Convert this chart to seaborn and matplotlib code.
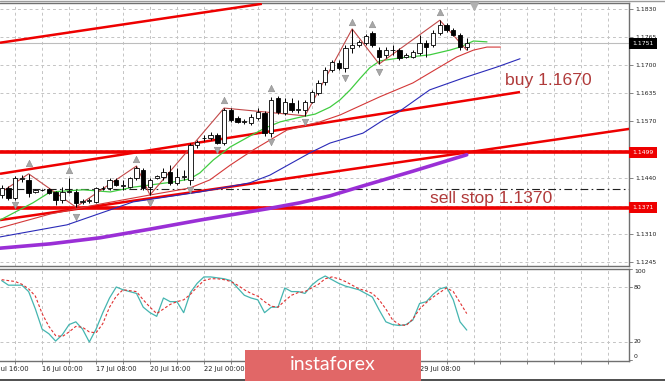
import matplotlib
matplotlib.use("Agg")
import matplotlib.pyplot as plt
import matplotlib.transforms as mtrans
from matplotlib.patches import Rectangle
from matplotlib.lines import Line2D
import numpy as np
import pandas as pd
import seaborn as sns

sns.set_theme(style="white")
plt.rcParams['font.family'] = ['DejaVu Sans']

# ---------------- data (EURUSD H4) ----------------
opens = [1.1400, 1.1416, 1.1393, 1.1438, 1.1435, 1.1407, 1.1411, 1.1414, 1.1407, 1.1389,
         1.1408, 1.1407, 1.1384, 1.1386, 1.1384, 1.1416, 1.1416, 1.1435, 1.1421, 1.1418,
         1.1440, 1.1458, 1.1418, 1.1440, 1.1442, 1.1453, 1.1428, 1.1442, 1.1435, 1.1516,
         1.1531, 1.1532, 1.1539, 1.1520, 1.1597, 1.1578, 1.1569, 1.1566, 1.1578, 1.1590,
         1.1543, 1.1624, 1.1590, 1.1613, 1.1597, 1.1597, 1.1615, 1.1636, 1.1661, 1.1689,
         1.1705, 1.1694, 1.1740, 1.1747, 1.1752, 1.1775, 1.1735, 1.1724, 1.1735, 1.1735,
         1.1719, 1.1719, 1.1728, 1.1752, 1.1747, 1.1775, 1.1793, 1.1781, 1.1770, 1.1742]
highs = [1.1423, 1.1421, 1.1444, 1.1446, 1.1449, 1.1414, 1.1414, 1.1416, 1.1409, 1.1418,
         1.1440, 1.1412, 1.1391, 1.1393, 1.1418, 1.1421, 1.1440, 1.1440, 1.1435, 1.1442,
         1.1467, 1.1462, 1.1440, 1.1447, 1.1462, 1.1469, 1.1462, 1.1458, 1.1520, 1.1527,
         1.1539, 1.1545, 1.1543, 1.1601, 1.1601, 1.1582, 1.1576, 1.1587, 1.1601, 1.1594,
         1.1627, 1.1629, 1.1624, 1.1624, 1.1620, 1.1620, 1.1643, 1.1666, 1.1696, 1.1712,
         1.1712, 1.1747, 1.1784, 1.1758, 1.1773, 1.1779, 1.1742, 1.1742, 1.1747, 1.1740,
         1.1728, 1.1735, 1.1770, 1.1758, 1.1781, 1.1804, 1.1798, 1.1786, 1.1775, 1.1763]
lows = [1.1393, 1.1389, 1.1389, 1.1430, 1.1395, 1.1405, 1.1409, 1.1402, 1.1377, 1.1382,
        1.1405, 1.1372, 1.1380, 1.1382, 1.1382, 1.1412, 1.1412, 1.1421, 1.1412, 1.1416,
        1.1435, 1.1412, 1.1400, 1.1438, 1.1435, 1.1423, 1.1423, 1.1435, 1.1423, 1.1509,
        1.1525, 1.1527, 1.1518, 1.1516, 1.1569, 1.1566, 1.1564, 1.1562, 1.1573, 1.1536,
        1.1534, 1.1587, 1.1585, 1.1592, 1.1590, 1.1583, 1.1613, 1.1631, 1.1654, 1.1684,
        1.1689, 1.1684, 1.1728, 1.1742, 1.1747, 1.1742, 1.1703, 1.1717, 1.1724, 1.1712,
        1.1717, 1.1717, 1.1724, 1.1719, 1.1742, 1.1770, 1.1777, 1.1768, 1.1735, 1.1735]
closes = [1.1416, 1.1393, 1.1440, 1.1440, 1.1405, 1.1412, 1.1412, 1.1405, 1.1389, 1.1407,
          1.1409, 1.1382, 1.1386, 1.1388, 1.1416, 1.1417, 1.1435, 1.1423, 1.1422, 1.1440,
          1.1462, 1.1416, 1.1435, 1.1444, 1.1453, 1.1428, 1.1442, 1.1443, 1.1516, 1.1523,
          1.1532, 1.1539, 1.1520, 1.1597, 1.1573, 1.1569, 1.1570, 1.1580, 1.1592, 1.1543,
          1.1620, 1.1592, 1.1615, 1.1597, 1.1598, 1.1615, 1.1638, 1.1659, 1.1689, 1.1707,
          1.1694, 1.1740, 1.1747, 1.1754, 1.1768, 1.1747, 1.1719, 1.1735, 1.1736, 1.1717,
          1.1724, 1.1731, 1.1752, 1.1742, 1.1775, 1.1793, 1.1781, 1.1770, 1.1742, 1.1751]

# Alligator lines (bar index, price)
lips_bar = [-0.25, 4.65, 7.2, 12.1, 16.1, 19.5, 25.4, 27.9, 29.4, 31.4, 33.9, 36.8, 39.1, 41.3,
            44.3, 46.5, 48.7, 50.2, 51.7, 53.2, 54.6, 56.1, 59.1, 63.5, 66.5, 68.0, 70.0, 72.0]
lips_price = [1.1342, 1.1382, 1.1407, 1.1412, 1.1407, 1.1418, 1.1430, 1.1437, 1.1451, 1.1481,
              1.1511, 1.1536, 1.1555, 1.1569, 1.1580, 1.1587, 1.1603, 1.1620, 1.1643, 1.1670,
              1.1694, 1.1710, 1.1717, 1.1724, 1.1735, 1.1742, 1.1756, 1.1754]
teeth_bar = [-0.25, 7.2, 14.6, 22.0, 27.9, 30.9, 33.9, 37.3, 42.3, 47.2, 50.2, 56.1, 61.0,
             65.0, 67.5, 70.0, 72.0, 74.0]
teeth_price = [1.1324, 1.1356, 1.1379, 1.1400, 1.1416, 1.1435, 1.1469, 1.1504, 1.1550, 1.1569,
               1.1585, 1.1627, 1.1659, 1.1696, 1.1719, 1.1735, 1.1742, 1.1742]
jaw_bar = [-0.25, 9.7, 19.5, 29.4, 36.8, 39.8, 42.8, 45.8, 48.7, 53.6, 56.6, 58.7, 63.5, 68.4,
           73.5, 76.9]
jaw_price = [1.1303, 1.1331, 1.1384, 1.1407, 1.1428, 1.1446, 1.1472, 1.1498, 1.1520, 1.1543,
             1.1573, 1.1590, 1.1643, 1.1670, 1.1696, 1.1715]
ma_bar = [-0.25, 7.17, 14.58, 22.0, 29.42, 39.36, 44.26, 48.7, 53.6, 61.0, 69.0]
ma_price = [1.1277, 1.1287, 1.1301, 1.1321, 1.1342, 1.1368, 1.1382, 1.1398, 1.1421, 1.1455,
            1.1493]

# ZigZag and fractals
zz_bar = [0, 4, 11, 20, 22, 33, 45, 52, 56, 65, 69]
zz_price = [1.1407, 1.1449, 1.1372, 1.1467, 1.1400, 1.1601, 1.1583, 1.1784, 1.1703, 1.1804, 1.1735]
frac_up_bar = [4, 10, 20, 33, 40, 52, 55, 65]
frac_up_price = [1.1474, 1.1458, 1.1483, 1.1620, 1.1648, 1.1800, 1.1795, 1.1823]
frac_dn_bar = [2, 11, 22, 28, 32, 40, 45, 51, 56]
frac_dn_price = [1.1377, 1.1349, 1.1382, 1.1412, 1.1505, 1.1523, 1.1569, 1.1671, 1.1684]

# trend lines
t1_bar, t1_price = [-0.25, 38.6], [1.1752, 1.1842]
t2_bar, t2_price = [-0.25, 76.9], [1.1449, 1.1638]
t3_bar, t3_price = [-0.25, 93.2], [1.1342, 1.1553]
red_levels = [1.1499, 1.1371]
pending_level = 1.1413
last_price = 1.1751

# Stochastic
stoch_main = [87, 82, 82, 82, 75, 56, 34, 29, 21, 28, 39, 42, 34, 20, 34, 52, 68, 80, 77, 75,
              73, 58, 52, 48, 68, 64, 64, 52, 74, 84, 91, 91, 90, 89, 87, 79, 71, 68, 66, 52,
              58, 58, 79, 75, 75, 73, 82, 88, 92, 88, 84, 81, 79, 77, 73, 69, 55, 42, 39, 38,
              39, 44, 62, 64, 72, 78, 80, 66, 42, 33]
stoch_signal = [88, 87, 86, 83, 78, 70, 51, 37, 27, 26, 31, 37, 36, 31, 30, 40, 58, 70, 77, 76,
                75, 66, 58, 51, 56, 61, 64, 66, 72, 80, 87, 89, 89, 88, 86, 82, 77, 73, 70, 64,
                59, 58, 65, 71, 74, 75, 79, 83, 89, 91, 89, 86, 82, 78, 76, 73, 66, 56, 44, 39,
                38, 45, 56, 63, 69, 74, 79, 75, 63, 51]

price_ticks = [1.1830, 1.1765, 1.1700, 1.1635, 1.1570, 1.1440, 1.1310, 1.1245]
price_grid = [1.1830, 1.1765, 1.1700, 1.1635, 1.1570, 1.1505, 1.1440, 1.1375, 1.1310, 1.1245]
# labels that are visible in the picture (the others lie under the logo)
time_bars = [-2, 6, 14, 22, 30, 62]
time_labels = ["14 Jul 16:00", "16 Jul 00:00", "17 Jul 08:00", "20 Jul 16:00", "22 Jul 00:00",
               "29 Jul 08:00"]

# ---------------- layout ----------------
W, H = 665, 381
fig = plt.figure(figsize=(W / 100, H / 100), dpi=100)
fig.patch.set_facecolor('white')


def fx(px):
    return px / W


def fy(py):
    return 1 - py / H


ax = fig.add_axes([0, fy(266), fx(629), fy(3) - fy(266)])
ax2 = fig.add_axes([0, fy(360.5), fx(629), fy(268.5) - fy(360.5)])
XMIN, XMAX = -0.25, 93.07
for a in (ax, ax2):
    a.set_facecolor('white')
    a.set_xlim(XMIN, XMAX)
    a.spines['left'].set_visible(False)
    for s in ('right', 'top', 'bottom'):
        a.spines[s].set_color('#707070')
        a.spines[s].set_linewidth(1.0)
ax.set_ylim(1.12358, 1.18439)
ax2.set_ylim(-0.2, 100.2)

grid_kw = dict(color='#c4c4c4', lw=0.7, linestyle=(0, (3, 3)), zorder=0)
grid_bars = np.arange(-2, 94, 4)
for gb in grid_bars:
    ax.axvline(gb, **grid_kw)
    ax2.axvline(gb, **grid_kw)
for gp in price_grid:
    ax.axhline(gp, **grid_kw)
for gl in (80, 20):
    ax2.axhline(gl, **grid_kw)

# current price line
ax.axhline(last_price, color='#bdbdbd', lw=0.8, zorder=1)

# horizontal red levels + pending line
for lv in red_levels:
    ax.axhline(lv, color='#ee0000', lw=2.6, zorder=3)
ax.axhline(pending_level, color='#202020', lw=0.8, linestyle=(0, (7, 3, 1.5, 3)), zorder=3)

# trend lines
for tb, tp in ((t1_bar, t1_price), (t2_bar, t2_price), (t3_bar, t3_price)):
    ax.plot(tb, tp, color='#ee0000', lw=1.8, zorder=3, solid_capstyle='butt')

# moving averages via seaborn
sns.lineplot(x=ma_bar, y=ma_price, ax=ax, color='#9a2fd6', lw=2.6, estimator=None, zorder=4)
sns.lineplot(x=jaw_bar, y=jaw_price, ax=ax, color='#2a2ab8', lw=0.8, estimator=None, zorder=4)
sns.lineplot(x=teeth_bar, y=teeth_price, ax=ax, color='#d43838', lw=0.8, estimator=None, zorder=4)
sns.lineplot(x=lips_bar, y=lips_price, ax=ax, color='#40cc40', lw=0.9, estimator=None, zorder=4)

# zigzag
ax.plot(zz_bar, zz_price, color='#c24848', lw=0.8, zorder=5)

# candles
bars = np.arange(len(opens))
o = np.array(opens)
c = np.array(closes)
ax.vlines(bars, lows, highs, color='black', lw=0.7, zorder=6)
bottoms = np.minimum(o, c)
heights = np.maximum(np.abs(c - o), 0.00003)
face = ['white' if cc >= oo else 'black' for oo, cc in zip(o, c)]
ax.bar(bars, heights, bottom=bottoms, width=0.64, color=face, edgecolor='black',
       linewidth=0.6, zorder=7)

# fractals
ax.scatter(frac_up_bar, frac_up_price, marker='^', s=22, color='#a8a8a8', edgecolors='#8c8c8c',
           linewidths=0.4, zorder=8)
ax.scatter(frac_dn_bar, frac_dn_price, marker='v', s=22, color='#a8a8a8', edgecolors='#8c8c8c',
           linewidths=0.4, zorder=8)
# chart shift marker
ax.scatter([70], [1.1837], marker='v', s=30, color='#b0b0b0', zorder=8, clip_on=False)

# annotations
txt_color = '#b03a3a'
ax.text(74.7, 1.1654, 'buy 1.1670', color=txt_color, fontsize=12.6,
        family=['Liberation Sans', 'DejaVu Sans'], ha='left', va='baseline', zorder=9)
ax.text(72.6, 1.1381, 'sell stop 1.1370', color=txt_color, fontsize=12.6,
        family=['Liberation Sans', 'DejaVu Sans'], ha='center', va='baseline', zorder=9)

# right price axis
ax.set_xticks([])
ax.yaxis.tick_right()
ax.set_yticks(price_ticks)
ax.set_yticklabels([f'{p:.4f}' for p in price_ticks])
ax.tick_params(axis='y', which='both', direction='out', length=3, width=0.6, color='#707070',
               labelsize=4.4, pad=1.5, right=True, left=False, labelright=True,
               labelleft=False, labelcolor='#202020')
bt = mtrans.blended_transform_factory(ax.transAxes, ax.transData)
box_x = 1.0 + 3.5 / 629
ax.text(box_x, last_price, f'{last_price:.4f}', transform=bt, ha='left', va='center',
        fontsize=4.4, color='white', clip_on=False, zorder=10,
        bbox=dict(boxstyle='square,pad=0.5', fc='black', ec='none'))
for lv in red_levels:
    ax.text(box_x, lv, f'{lv:.4f}', transform=bt, ha='left', va='center', fontsize=4.4,
            color='white', clip_on=False, zorder=10,
            bbox=dict(boxstyle='square,pad=0.5', fc='#ee0000', ec='none'))

# stochastic panel
sns.lineplot(x=bars, y=stoch_main, ax=ax2, color='#45b5b0', lw=0.9, estimator=None, zorder=4)
sns.lineplot(x=bars, y=stoch_signal, ax=ax2, color='#e03030', lw=0.8, estimator=None,
             linestyle=(0, (2.5, 1.8)), zorder=5)
ax2.set_yticks([])
ax2.set_ylabel('')
ax.set_ylabel('')
ax2.set_xticks(grid_bars[(grid_bars >= XMIN) & (grid_bars <= XMAX)])
ax2.set_xticklabels([])
ax2.tick_params(axis='x', direction='out', length=2.5, width=0.6, color='#707070', bottom=True)
bt2 = mtrans.blended_transform_factory(ax2.transAxes, ax2.transData)
for val, lab, va in ((100, '100', 'top'), (80, '80', 'center'), (20, '20', 'center'),
                     (0, '0', 'bottom')):
    ax2.text(1.0 + 5 / 629, val if val not in (100, 0) else (99.5 if val == 100 else 1.0), lab,
             transform=bt2, ha='left', va=va, fontsize=4.4, color='#202020', clip_on=False)
    ax2.plot([1.0, 1.0 + 3 / 629], [val, val], transform=bt2, color='#707070', lw=0.6,
             clip_on=False)

# time labels
bt3 = mtrans.blended_transform_factory(ax2.transData, fig.transFigure)
for tb, tl in zip(time_bars, time_labels):
    ax2.text(tb, fy(369), tl, transform=bt3, ha='left', va='center', fontsize=4.9,
             color='#202020', clip_on=False)

# window borders
fig.add_artist(Line2D([0, 1], [fy(1), fy(1)], transform=fig.transFigure, color='#9a9a9a', lw=1.0))
fig.add_artist(Line2D([0, 1], [fy(380), fy(380)], transform=fig.transFigure, color='#303030', lw=1.2))

# logo
fig.add_artist(Rectangle((fx(245), 0), fx(421) - fx(245), fy(350), transform=fig.transFigure,
                         facecolor='#e16767', edgecolor='none', zorder=20))
fig.text(fx(333), fy(364), 'instaforex', color='white', fontsize=14, ha='center', va='center',
         family=['Lato', 'DejaVu Sans'], zorder=21)

fig.savefig('out.png', dpi=100, facecolor='white')
